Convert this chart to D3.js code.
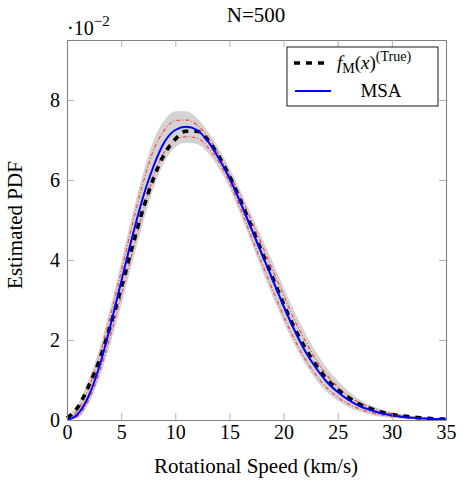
<!DOCTYPE html>
<html lang="en">
<head>
<meta charset="utf-8">
<title>N=500</title>
<script src="https://d3js.org/d3.v7.min.js"></script>
<style>
  body { margin: 0; background: #fff; }
  text { font-family: "Liberation Serif", "DejaVu Serif", serif; fill: #000; }
</style>
</head>
<body>
<script>
// speed grid (km/s) and curves, values in units of 1e-2
var speed = [0,1,2,3,4,5,6,7,8,9,10,11,12,13,14,15,16,17,18,19,20,21,22,23,24,25,26,27,28,29,30,31,32,33,34,35];
var trueVals = [0.05,0.32,0.85,1.5,2.35,3.3,4.3,5.25,6.05,6.65,7.02,7.22,7.22,7.0,6.6,6.1,5.5,4.85,4.2,3.55,2.9,2.3,1.8,1.37,1.02,0.76,0.56,0.4,0.29,0.2,0.14,0.1,0.07,0.05,0.03,0.02];
var msaVals = [0,0.15,0.6,1.35,2.35,3.45,4.55,5.55,6.35,6.95,7.25,7.33,7.25,6.97,6.55,6.05,5.45,4.8,4.15,3.5,2.85,2.25,1.72,1.3,0.95,0.7,0.5,0.35,0.25,0.17,0.12,0.08,0.055,0.035,0.025,0.015];
var redUpper = [0.03,0.25,0.8,1.6,2.6,3.7,4.85,5.9,6.75,7.25,7.48,7.5,7.38,7.08,6.65,6.15,5.6,5.0,4.38,3.75,3.12,2.5,1.98,1.5,1.12,0.83,0.6,0.43,0.31,0.22,0.16,0.11,0.075,0.05,0.035,0.02];
var redLower = [0,0.1,0.5,1.2,2.1,3.1,4.15,5.2,6.1,6.7,7.0,7.08,7.05,6.82,6.45,5.95,5.3,4.6,3.92,3.25,2.6,2.02,1.52,1.12,0.8,0.57,0.4,0.28,0.19,0.13,0.09,0.06,0.04,0.025,0.015,0.01];
var bandUpper = [0.1,0.4,1.0,1.8,2.8,3.95,5.1,6.15,7.0,7.5,7.72,7.72,7.55,7.22,6.8,6.3,5.75,5.15,4.55,3.95,3.32,2.72,2.18,1.7,1.3,0.98,0.72,0.52,0.38,0.27,0.19,0.13,0.09,0.06,0.04,0.03];
var bandLower = [0,0.05,0.4,1.05,1.9,2.85,3.9,4.9,5.8,6.45,6.82,6.93,6.9,6.68,6.3,5.8,5.15,4.45,3.75,3.08,2.45,1.88,1.4,1.0,0.7,0.48,0.32,0.21,0.13,0.08,0.05,0.03,0.02,0.01,0.005,0];
var xTicks = [0,5,10,15,20,25,30,35];
var yTicks = [0,2,4,6,8];

var w = 463, h = 484;
var plotL = 67, plotR = 446, plotT = 40, plotB = 420;

var svg = d3.select("body").append("svg")
    .attr("width", w)
    .attr("height", h);

var x = d3.scaleLinear().domain([0, 35]).range([plotL, plotR]);
var y = d3.scaleLinear().domain([0, 9.5]).range([plotB, plotT]);

// band
var area = d3.area()
    .x(function(d, i) { return x(speed[i]); })
    .y0(function(d, i) { return y(bandLower[i]); })
    .y1(function(d, i) { return y(bandUpper[i]); })
    .curve(d3.curveMonotoneX);
svg.append("path").datum(speed).attr("d", area).attr("fill", "#d3d3d3");

function lineOf(vals) {
  return d3.line()
    .x(function(d, i) { return x(speed[i]); })
    .y(function(d, i) { return y(vals[i]); })
    .curve(d3.curveMonotoneX)(speed);
}

[redUpper, redLower].forEach(function(v) {
  svg.append("path").attr("d", lineOf(v))
    .attr("fill", "none").attr("stroke", "#ff4d4d")
    .attr("stroke-width", 1.3).attr("stroke-dasharray", "4,2,1,2");
});

svg.append("path").attr("d", lineOf(trueVals))
  .attr("fill", "none").attr("stroke", "#000")
  .attr("stroke-width", 3.6).attr("stroke-dasharray", "6,6");

svg.append("path").attr("d", lineOf(msaVals))
  .attr("fill", "none").attr("stroke", "#0000ff")
  .attr("stroke-width", 2);

// axes, ticks pointing inward
var gx = svg.append("g").attr("transform", "translate(0," + plotB + ")")
  .call(d3.axisBottom(x).tickValues(xTicks).tickSize(-7).tickSizeOuter(0).tickPadding(5));
var gxt = svg.append("g").attr("transform", "translate(0," + plotT + ")")
  .call(d3.axisTop(x).tickValues(xTicks).tickSize(-7).tickSizeOuter(0).tickFormat(""));
var gy = svg.append("g").attr("transform", "translate(" + plotL + ",0)")
  .call(d3.axisLeft(y).tickValues(yTicks).tickSize(-7).tickSizeOuter(0).tickPadding(7));
var gyr = svg.append("g").attr("transform", "translate(" + plotR + ",0)")
  .call(d3.axisRight(y).tickValues(yTicks).tickSize(-7).tickSizeOuter(0).tickFormat(""));

[gx, gxt, gy, gyr].forEach(function(g) {
  g.select(".domain").attr("stroke", "#808080").attr("stroke-width", 1.1);
  g.selectAll(".tick line").attr("stroke", "#a0a0a0").attr("stroke-width", 0.8);
  g.selectAll(".tick text").attr("font-family", "Liberation Serif").attr("font-size", 20).attr("fill", "#000");
});

// axis labels and title
svg.append("text").attr("x", 256).attr("y", 22).attr("text-anchor", "middle")
  .attr("font-size", 21).text("N=500");
svg.append("text").attr("x", 256).attr("y", 473).attr("text-anchor", "middle")
  .attr("font-size", 21).text("Rotational Speed (km/s)");
svg.append("text").attr("transform", "translate(22,225) rotate(-90)").attr("text-anchor", "middle")
  .attr("font-size", 21).text("Estimated PDF");

var mult = svg.append("text").attr("x", 67).attr("y", 35).attr("font-size", 20);
mult.append("tspan").text("\u00b710");
mult.append("tspan").attr("dy", -9).attr("font-size", 15).text("\u22122");

// legend
var lg = svg.append("g");
lg.append("rect").attr("x", 287).attr("y", 47).attr("width", 151).attr("height", 59)
  .attr("fill", "#fff").attr("stroke", "#000").attr("stroke-width", 0.9);
lg.append("line").attr("x1", 294).attr("x2", 327).attr("y1", 63).attr("y2", 63)
  .attr("stroke", "#000").attr("stroke-width", 3.6).attr("stroke-dasharray", "6,6");
lg.append("line").attr("x1", 295).attr("x2", 331).attr("y1", 91).attr("y2", 91)
  .attr("stroke", "#0000ff").attr("stroke-width", 2);

var t1 = lg.append("text").attr("x", 337).attr("y", 69).attr("font-size", 19);
t1.append("tspan").attr("font-style", "italic").text("f");
t1.append("tspan").attr("dy", 4).attr("font-size", 14).text("M");
t1.append("tspan").attr("dy", -4).text("(");
t1.append("tspan").attr("font-style", "italic").text("x");
t1.append("tspan").text(")");
t1.append("tspan").attr("dy", -8).attr("font-size", 14).text("(True)");

lg.append("text").attr("x", 381).attr("y", 97).attr("text-anchor", "middle")
  .attr("font-size", 19).text("MSA");
</script>
</body>
</html>
